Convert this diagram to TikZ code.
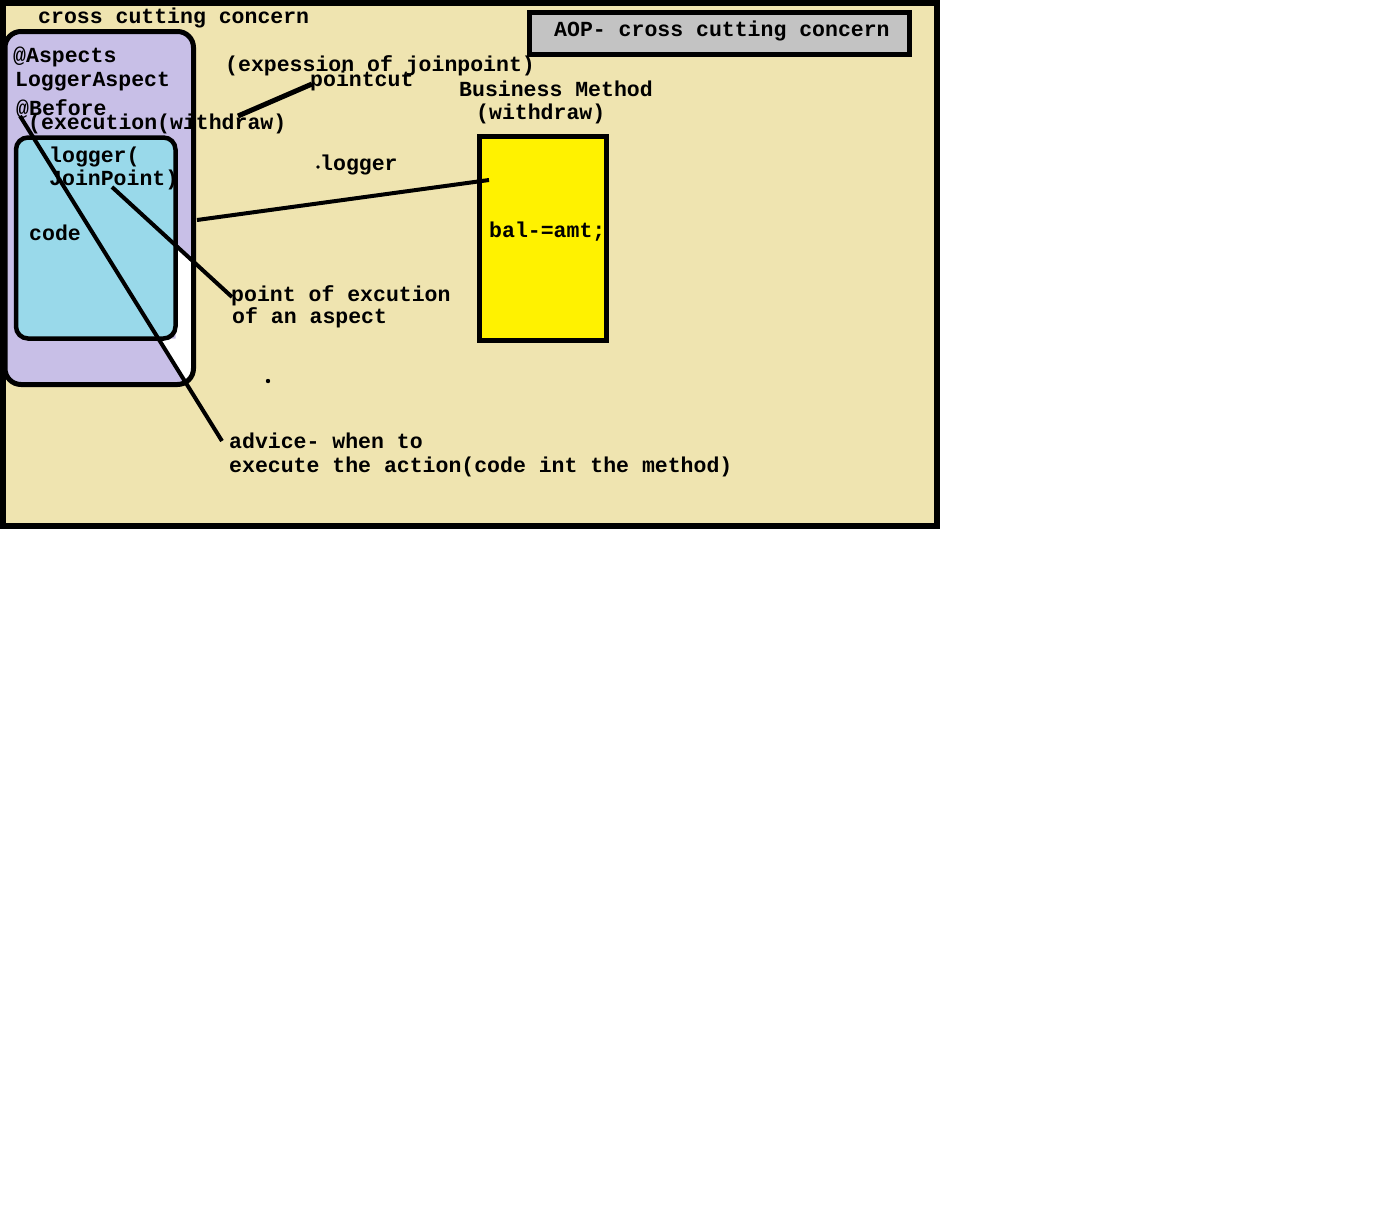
\documentclass[tikz,border=0pt]{standalone}
\usepackage{fontspec}
\setmainfont{Liberation Mono}
\usetikzlibrary{positioning}
\definecolor{tan}{RGB}{239,228,176}
\definecolor{lavender}{RGB}{200,191,231}
\definecolor{turq}{RGB}{153,217,234}
\definecolor{paintyellow}{RGB}{255,242,0}
\definecolor{gray25}{RGB}{195,195,195}

\begin{document}
\begin{tikzpicture}[x=1pt,y=-1pt,
  txt/.style={anchor=base west,inner sep=0pt,font=\fontsize{21.5}{24}\selectfont\bfseries},
  box/.style={draw=black,line width=5pt},
  pen/.style={draw=black,line width=4pt}]
\fill[white] (0,0) rectangle (1376,1216);
\useasboundingbox (0,0) rectangle (1376,1216);
% frame and boxes
\draw[box,line width=6pt,fill=tan] (3,3) rectangle (936.5,526);
\fill[lavender,rounded corners=16pt] (5,31.5) rectangle (193.5,384.5);
\begin{scope}
\clip[rounded corners=16pt] (5,31.5) rectangle (193.5,384.5);
\fill[white] (175.5,245.7) -- (193.5,262.3) -- (193.5,384.5) -- (186.9,384.5) -- (158.3,338.5) -- (175.5,338.5) -- cycle;
\end{scope}
\draw[box,rounded corners=16pt] (5,31.5) rectangle (193.5,384.5);
\draw[box,line width=4.5pt,fill=turq,rounded corners=12pt] (16,137.5) rectangle (175.5,338.5);
\draw[box,fill=paintyellow] (479,136.5) rectangle (606.5,340.5);
\draw[box,fill=gray25] (529.5,12.5) rectangle (909.5,54.5);
% texts
\node[txt] (cross) at (38,23) {cross cutting concern};
\node[txt] (title) at (554,36) {AOP- cross cutting concern};
\node[txt] (aspects) at (13,62) {@Aspects};
\node[txt] (loggeraspect) at (15,86) {LoggerAspect};
\node[txt] (before) at (16,115) {@Before};
\node[txt] (execution) at (28,129) {(execution(withdraw)};
\node[txt] (expression) at (225,71) {(expession of joinpoint)};
\node[txt] (pointcut) at (310,86) {pointcut};
\node[txt] (business) at (459,96) {Business Method};
\node[txt] (withdraw) at (476,119) {(withdraw)};
\node[txt] (loggerjp) at (49,162) {logger(};
\node[txt] (joinpoint) at (49,185) {JoinPoint)};
\node[txt] (code) at (29,240) {code};
\node[txt] (logger) at (320,170) {logger};
\node[txt] (bal) at (489,237) {bal-=amt;};
\node[txt] (poe) at (231,301) {point of excution};
\node[txt] (poe2) at (232,323) {of an aspect};
\node[txt] (advice) at (229,448) {advice- when to};
\node[txt] (advice2) at (229,472) {execute the action(code int the method)};
% dots
\fill (318,167) circle (1.8pt);
\fill (268,381) circle (2.2pt);
% connectors
\coordinate (pc-a) at (238,116);
\coordinate (pc-b) at (312,84);
\coordinate (lg-a) at (197,220);
\coordinate (lg-b) at (489,180);
\coordinate (jp-a) at (112,187);
\coordinate (jp-b) at (232,297);
\coordinate (adv-a) at (20,116);
\coordinate (adv-b) at (222,441);
\draw[pen,line width=5pt] (pc-a) -- (pc-b);
\draw[pen] (lg-a) -- (lg-b);
\draw[pen] (jp-a) -- (jp-b);
\draw[pen] (adv-a) -- (adv-b);
\end{tikzpicture}
\end{document}
